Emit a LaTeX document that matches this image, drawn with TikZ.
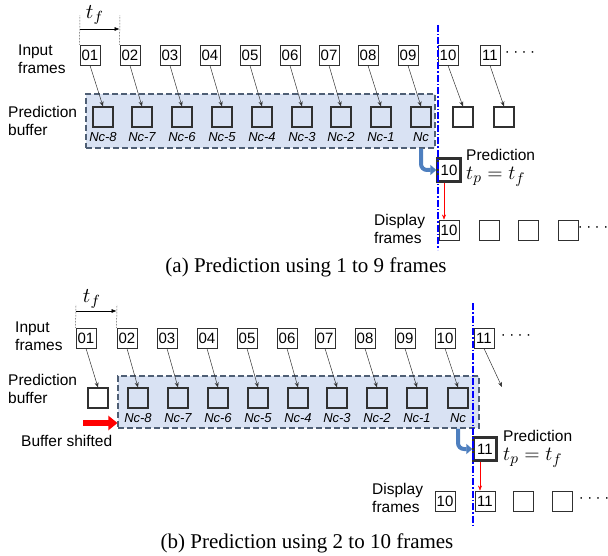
\documentclass[tikz,border=0pt]{standalone}
\usepackage{fontspec}
\setmainfont{Liberation Serif}
\setsansfont{Liberation Sans}
\usepackage{tikz}
\usetikzlibrary{arrows.meta,positioning}
\definecolor{zonefill}{HTML}{D9E2F3}
\definecolor{zoneline}{HTML}{4F5F75}
\definecolor{boxline}{HTML}{303030}
\definecolor{bentblue}{HTML}{4E7FBF}
\definecolor{cutblue}{HTML}{0000FF}
\definecolor{showred}{HTML}{FF0000}
\tikzset{
  framebox/.style={
    rectangle, draw=boxline, line width=0.9pt, fill=white,
    minimum size=20pt, inner sep=0pt,
    font=\sffamily\fontsize{15}{15}\selectfont
  },
  bufbox/.style={
    rectangle, draw=boxline, line width=1.2pt,
    minimum size=20pt, inner sep=0pt
  },
  predbox/.style={framebox, line width=2.4pt, minimum size=23pt},
  zone/.style={
    rectangle, draw=zoneline, fill=zonefill, line width=1.1pt,
    dash pattern=on 6pt off 3pt, inner sep=0pt
  },
  nclabel/.style={inner sep=0pt, font=\sffamily\itshape\fontsize{13}{13}\selectfont},
  sidelabel/.style={
    anchor=west, align=left, inner sep=0pt,
    font=\sffamily\fontsize{15.5}{17.5}\selectfont
  },
  predlabel/.style={sidelabel, anchor=north west},
  tflabel/.style={inner sep=0pt},
  dotrow/.style={inner sep=0pt, font=\sffamily\fontsize{15}{15}\selectfont},
  caption/.style={inner sep=0pt, font=\rmfamily\fontsize{21}{24}\selectfont},
  feedarrow/.style={-{Stealth[length=5pt,width=4pt]}, line width=0.5pt, draw=black!80},
  showarrow/.style={-{Stealth[length=5pt,width=4pt]}, line width=0.5pt, draw=showred},
  tfarrow/.style={-{Latex[length=5pt,width=4pt]}, line width=0.5pt},
  tfline/.style={densely dotted, line width=0.5pt},
  bentarrow/.style={
    -{Triangle[length=6pt,width=10pt]}, line width=4pt, draw=bentblue,
    rounded corners=6pt
  },
  shiftarrow/.style={-{Triangle[length=9pt,width=14pt]}, line width=6pt, draw=showred},
  cutline/.style={cutblue, line width=1.1pt, dash pattern=on 7pt off 2pt on 1.5pt off 2pt},
}
\newcommand{\fourdots}{\textperiodcentered\hspace{3.5pt}\textperiodcentered\hspace{3.5pt}\textperiodcentered\hspace{3.5pt}\textperiodcentered}
\newcommand{\bigmath}[2][1.4]{\scalebox{#1}{$#2$}}

\begin{document}
\begin{tikzpicture}[x=1pt, y=-1pt]
  \useasboundingbox (0,0) rectangle (608,556);

  % (a) prediction from frames 01 to 09
  \node[zone, minimum width=349pt, minimum height=54pt] (zoneA) at (260.5,121) {};
  \node[sidelabel] (inAlbl) at (18,59) {Input\\frames};
  \node[sidelabel] (bufAlbl) at (8,121) {Prediction\\buffer};
  \foreach \x/\t [count=\i] in {90/01,130/02,170/03,210/04,250/05,290/06,329/07,368/08,408/09,448/10,490/11}
    \node[framebox] (inA\i) at (\x,55) {\t};
  \node[dotrow] (dotsA1) at (520,54) {\fourdots};
  \foreach \x/\t [count=\i] in {103/Nc-8,142/Nc-7,182/Nc-6,222/Nc-5,262/Nc-4,302/Nc-3,341/Nc-2,381/Nc-1,421/Nc}
  {
    \node[bufbox] (bufA\i) at (\x,117) {};
    \node[nclabel, below=5pt of bufA\i] (ncA\i) {\t};
  }
  \node[bufbox] (bufA10) at (463,117) {};
  \node[bufbox] (bufA11) at (504,117) {};
  \foreach \i in {1,...,11}
    \draw[feedarrow] (inA\i.south) -- (bufA\i.north);

  \coordinate (tfA1) at (80,15);
  \coordinate (tfA2) at (120,15);
  \draw[tfline] (inA1.north west) -- (tfA1);
  \draw[tfline] (inA2.north west) -- (tfA2);
  \draw[tfarrow] (inA1.north west |- 0,29) -- (inA2.north west |- 0,29);
  \node[tflabel] (tfA) at (95,15) {\bigmath[2.1]{t_f}};

  \node[predbox] (predA) at (449,170) {10};
  \node[predlabel] (predAtxt) at (466,149) {Prediction\\[2pt]\bigmath{t_p = t_f}};
  \node[sidelabel] (dispAlbl) at (374,229) {Display\\frames};
  \foreach \x/\t [count=\i] in {449/10,489/,528/,568/}
    \node[framebox] (dispA\i) at (\x,230) {\t};
  \node[dotrow] (dotsA2) at (593,229) {\fourdots};
  \draw[showarrow] ([xshift=-5pt]predA.south) -- ([xshift=-5pt]dispA1.north);
  \draw[bentarrow] (zoneA.south -| bufA9.center) |- (predA.west);

  \coordinate (cutAtop) at (438,25);
  \coordinate (cutAbot) at (438,250);
  \draw[cutline] (cutAtop) -- (cutAbot);
  \node[caption] (capA) at (306,267) {(a) Prediction using 1 to 9 frames};

  % (b) prediction from frames 02 to 10
  \node[zone, minimum width=361pt, minimum height=52pt] (zoneB) at (298.5,402) {};
  \node[sidelabel] (inBlbl) at (15,336) {Input\\frames};
  \node[sidelabel] (bufBlbl) at (8,389) {Prediction\\buffer};
  \foreach \x/\t [count=\i] in {86/01,127/02,167/03,207/04,247/05,287/06,325/07,365/08,405/09,445/10,484/11}
    \node[framebox] (inB\i) at (\x,338) {\t};
  \node[dotrow] (dotsB1) at (516,337) {\fourdots};
  \node[bufbox] (bufB1) at (98,398) {};
  \foreach \x/\t [count=\i from 2] in {138/Nc-8,178/Nc-7,218/Nc-6,258/Nc-5,298/Nc-4,337/Nc-3,377/Nc-2,417/Nc-1,458/Nc}
  {
    \node[bufbox] (bufB\i) at (\x,398) {};
    \node[nclabel, below=5pt of bufB\i] (ncB\i) {\t};
  }
  \coordinate (bufB11) at (502,387);
  \foreach \i in {1,...,10}
    \draw[feedarrow] (inB\i.south) -- (bufB\i.north);
  \draw[feedarrow] (inB11.south) -- (bufB11);

  \coordinate (tfB1) at (76,305);
  \coordinate (tfB2) at (117,305);
  \draw[tfline] (inB1.north west) -- (tfB1);
  \draw[tfline] (inB2.north west) -- (tfB2);
  \draw[tfarrow] (inB1.north west |- 0,311) -- (inB2.north west |- 0,311);
  \node[tflabel] (tfB) at (92,299) {\bigmath[2.1]{t_f}};

  \coordinate (shiftS) at (83,423);
  \draw[shiftarrow] (shiftS) -- (shiftS -| zoneB.west);
  \node[sidelabel] (shiftlbl) at (21,441) {Buffer shifted};

  \node[predbox] (predB) at (485,449) {11};
  \node[predlabel] (predBtxt) at (503,430) {Prediction\\[2pt]\bigmath{t_p = t_f}};
  \node[sidelabel] (dispBlbl) at (372,498) {Display\\frames};
  \foreach \x/\t [count=\i] in {445/10,485/11,523/,562/}
    \node[framebox] (dispB\i) at (\x,501) {\t};
  \node[dotrow] (dotsB2) at (594,500) {\fourdots};
  \draw[showarrow] ([xshift=-5pt]predB.south) -- ([xshift=-5pt]dispB2.north);
  \draw[bentarrow] (zoneB.south -| bufB10.center) |- (predB.west);

  \coordinate (cutBtop) at (473,303);
  \coordinate (cutBbot) at (473,527);
  \draw[cutline] (cutBtop) -- (cutBbot);
  \node[caption] (capB) at (307,543) {(b) Prediction using 2 to 10 frames};
\end{tikzpicture}
\end{document}
